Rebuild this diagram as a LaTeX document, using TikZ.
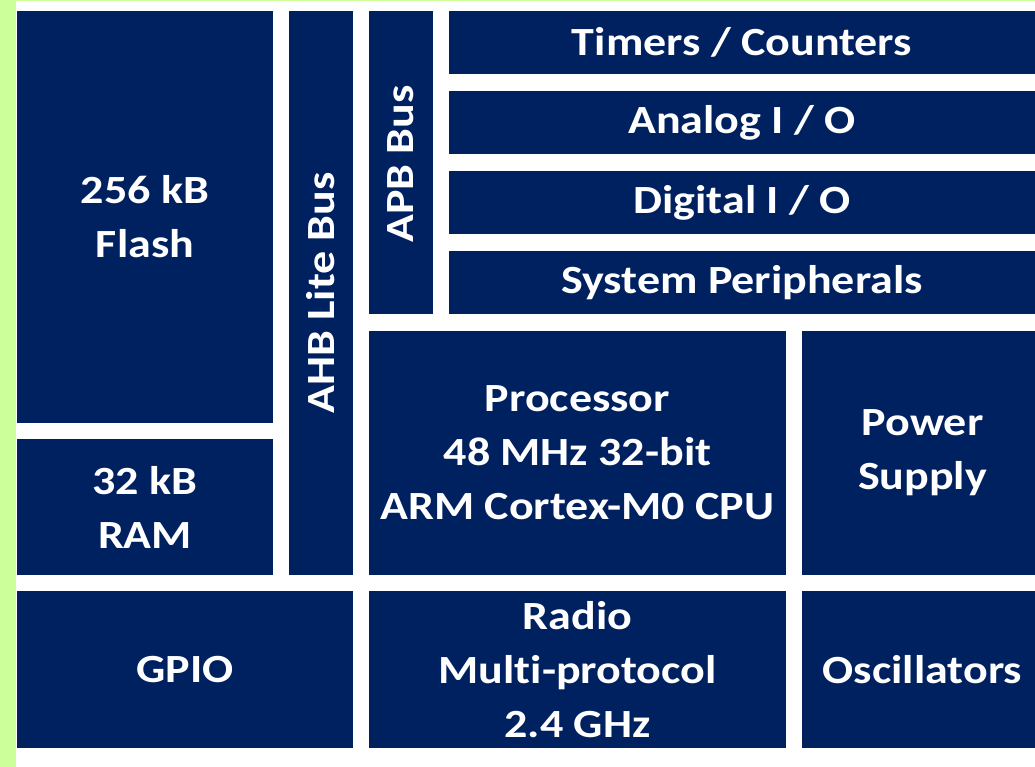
\documentclass[tikz,border=0pt]{standalone}
\usepackage{fontspec}
\setmainfont[Ligatures=NoCommon, FakeStretch=1.15]{Carlito}
\definecolor{navy}{RGB}{0,33,96}
\definecolor{lgreen}{RGB}{204,255,153}
\tikzset{
  blk/.style={draw=none, text=white, font=\bfseries\fontsize{40}{54}\selectfont, align=center, inner sep=0pt},
}
\newcommand{\blkbox}[6]{% name, x1,y1,x2,y2, text
  \fill[navy] (#2,#3) rectangle (#4,#5);
  \node[blk] (#1) at ({(#2+#4)/2},{(#3+#5)/2}) {#6};
}
\begin{document}
\begin{tikzpicture}[x=1pt,y=-1pt]
\useasboundingbox (0,0) rectangle (1035,767);
\fill[white] (0,0) rectangle (1035,767);
\fill[lgreen] (0,0) rectangle (16,767);
\fill[lgreen] (0,0) rectangle (1035,1.5);
\blkbox{flash}{17}{11}{273}{423}{256 kB\\Flash}
\blkbox{ram}{17}{439}{273}{575}{32 kB\\RAM}
\fill[navy] (289,11) rectangle (353,575);
\node[blk, rotate=90] (ahb) at (321,293) {AHB Lite Bus};
\fill[navy] (369,11) rectangle (433,314);
\node[blk, rotate=90] (apb) at (401,164) {APB Bus};
\blkbox{timers}{449}{11}{1035}{74}{Timers / Counters}
\blkbox{analog}{449}{91}{1035}{154}{Analog I / O}
\blkbox{digital}{449}{171}{1035}{234}{Digital I / O}
\blkbox{sysper}{449}{251}{1035}{314}{System Peripherals}
\blkbox{proc}{369}{331}{786}{575}{Processor\\48 MHz 32-bit\\ARM Cortex-M0 CPU}
\blkbox{power}{802}{331}{1043}{575}{Power\\Supply}
\blkbox{gpio}{17}{591}{353}{748}{GPIO}
\blkbox{radio}{369}{591}{786}{748}{Radio\\Multi-protocol\\2.4 GHz}
\blkbox{osc}{802}{591}{1043}{748}{Oscillators}
\end{tikzpicture}
\end{document}
